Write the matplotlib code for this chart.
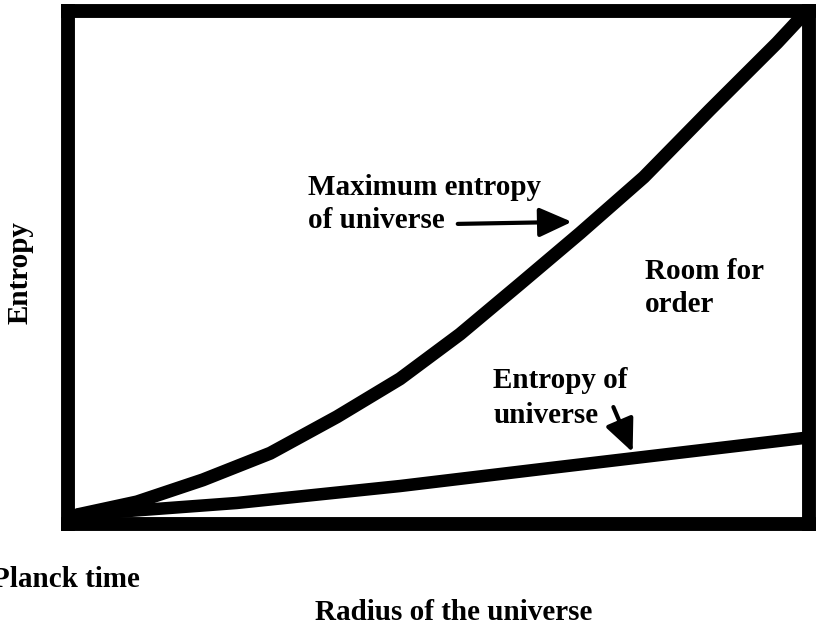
import matplotlib.pyplot as plt
import numpy as np

# curve values (axes run 0..10 on both sides)
radius_max = [0.13, 0.93, 1.82, 2.73, 3.63, 4.48, 5.29, 6.10, 6.91, 7.77, 8.66, 9.57, 9.88]
entropy_max = [0.18, 0.43, 0.86, 1.38, 2.09, 2.83, 3.70, 4.68, 5.67, 6.76, 8.07, 9.38, 9.86]

radius_univ = [0.13, 2.28, 4.48, 6.50, 9.95]
entropy_univ = [0.18, 0.41, 0.74, 1.09, 1.68]

font = 'Liberation Serif'
fs = 21

fig = plt.figure(figsize=(8.16, 6.28), dpi=100)
ax = fig.add_axes([68/816, 1 - 524/628, 741/816, 513/628])
ax.set_xlim(0, 10)
ax.set_ylim(0, 10)
ax.set_xticks([])
ax.set_yticks([])
for sp in ax.spines.values():
    sp.set_linewidth(10)
    sp.set_capstyle('projecting')

ax.plot(radius_max, entropy_max, color='black', lw=9.5,
        solid_capstyle='round', solid_joinstyle='round')
ax.plot(radius_univ, entropy_univ, color='black', lw=9,
        solid_capstyle='round', solid_joinstyle='round')

# labels inside the box
ax.text(3.24, 6.41, 'Maximum entropy', fontsize=fs, fontweight='bold', family=font, va='baseline')
ax.text(3.24, 5.77, 'of universe', fontsize=fs, fontweight='bold', family=font, va='baseline')
ax.annotate('', xy=(6.80, 5.89), xytext=(5.26, 5.85),
            arrowprops=dict(arrowstyle='-|>,head_length=1.0,head_width=0.45', color='black',
                            lw=3, mutation_scale=20, shrinkA=0, shrinkB=0))

ax.text(7.79, 4.78, 'Room for', fontsize=fs, fontweight='bold', family=font, va='baseline')
ax.text(7.79, 4.13, 'order', fontsize=fs, fontweight='bold', family=font, va='baseline')

ax.text(5.74, 2.65, 'Entropy of', fontsize=fs, fontweight='bold', family=font, va='baseline')
ax.text(5.74, 1.97, 'universe', fontsize=fs, fontweight='bold', family=font, va='baseline')
ax.annotate('', xy=(7.62, 1.40), xytext=(7.36, 2.28),
            arrowprops=dict(arrowstyle='-|>,head_length=1.0,head_width=0.45', color='black',
                            lw=3, mutation_scale=20, shrinkA=0, shrinkB=0))

# labels outside the box
fig.text(20/816, 1 - 273/628, 'Entropy', rotation=90, fontsize=fs, fontweight='bold',
         family=font, ha='center', va='center')
fig.text(-8/816, 1 - 587/628, 'Planck time', fontsize=fs, fontweight='bold', family=font,
         ha='left', va='baseline')
fig.text(454/816, 1 - 620/628, 'Radius of the universe', fontsize=fs, fontweight='bold',
         family=font, ha='center', va='baseline')

fig.savefig('out.png', dpi=100)
